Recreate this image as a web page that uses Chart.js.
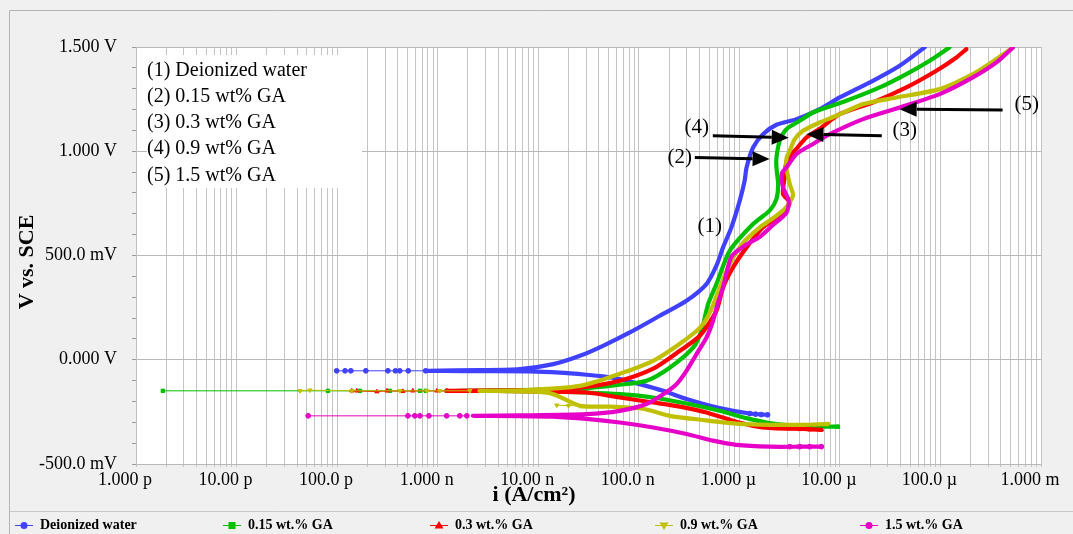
<!DOCTYPE html>
<html><head><meta charset="utf-8">
<script src="https://cdn.jsdelivr.net/npm/chart.js@4"></script>
<style>html,body{margin:0;padding:0;background:#f0f0f0}#wrap{width:1073px;height:534px;position:relative}</style>
</head><body><div id="wrap"><canvas id="c" width="1073" height="534"></canvas></div>
<script>
// ---------------- data (current density A/cm², potential V vs SCE) ----------------
const seriesNames = ['Deionized water', '0.15 wt.% GA', '0.3 wt.% GA', '0.9 wt.% GA', '1.5 wt.% GA'];
const boxLabels = ['(1) Deionized water', '(2) 0.15 wt% GA', '(3) 0.3 wt% GA', '(4) 0.9 wt% GA', '(5) 1.5 wt% GA'];
const xTickLabels = ['1.000 p', '10.00 p', '100.0 p', '1.000 n', '10.00 n', '100.0 n', '1.000 µ', '10.00 µ', '100.0 µ', '1.000 m'];
const yTickLabels = ['-500.0 mV', '0.000 V', '500.0 mV', '1.000 V', '1.500 V'];
const xTitle = 'i (A/cm²)';
const yTitle = 'V vs. SCE';

const waterCurve = [[1.91e-6,-0.264],[1.27e-6,-0.258],[6.38e-7,-0.232],[2.98e-7,-0.188],[1.75e-7,-0.149],[1.02e-7,-0.117],[6.47e-8,-0.093],[4.41e-8,-0.080],[3.02e-8,-0.072],[1.64e-8,-0.062],[8.26e-9,-0.056],[2.62e-9,-0.055],[7.8e-10,-0.053],
[2.62e-9,-0.050],[6.56e-9,-0.045],[1.41e-8,-0.021],[2.60e-8,0.019],[4.41e-8,0.067],[8.15e-8,0.131],[1.62e-7,0.211],[2.98e-7,0.283],[4.71e-7,0.363],[5.92e-7,0.451],[6.89e-7,0.539],[8.34e-7,0.635],[1.01e-6,0.763],[1.13e-6,0.859],[1.18e-6,0.922],[1.37e-6,1.018],[1.72e-6,1.082],[2.34e-6,1.127],[3.70e-6,1.154],[6.30e-6,1.202],[9.95e-6,1.258],[2.13e-5,1.338],[3.93e-5,1.410],[6.97e-5,1.498]];
const waterDots = [[7.6e-10,-0.053],[5.1e-10,-0.053],[4.2e-10,-0.053],[3.8e-10,-0.053],[3.2e-10,-0.053],[1.93e-10,-0.053],[1.37e-10,-0.053],[1.2e-10,-0.053],[9.9e-11,-0.053], null, [1.27e-6,-0.258],[1.45e-6,-0.261],[1.65e-6,-0.263],[1.91e-6,-0.264]];

const ga015Curve = [[9.57e-6,-0.321],[6.30e-6,-0.321],[2.94e-6,-0.313],[1.86e-6,-0.301],[1.18e-6,-0.280],[6.38e-7,-0.245],[2.98e-7,-0.210],[1.39e-7,-0.181],[6.47e-8,-0.165],[3.02e-8,-0.157],[1.30e-8,-0.152],[3.87e-9,-0.150],[1.66e-9,-0.149],
[3.87e-9,-0.147],[1.04e-8,-0.144],[2.60e-8,-0.139],[6.47e-8,-0.120],[1.19e-7,-0.101],[2.03e-7,-0.038],[3.47e-7,0.058],[4.20e-7,0.139],[4.89e-7,0.267],[5.92e-7,0.363],[8.04e-7,0.523],[1.37e-6,0.651],[2.00e-6,0.715],[2.34e-6,0.772],[2.43e-6,0.843],[2.34e-6,0.922],[2.34e-6,0.970],[2.52e-6,1.050],[2.94e-6,1.106],[3.98e-6,1.146],[5.41e-6,1.186],[1.16e-5,1.242],[2.49e-5,1.306],[4.58e-5,1.370],[7.82e-5,1.434],[1.23e-4,1.498]];
const ga015Dots = [[1.23e-9,-0.149],[7.6e-10,-0.149],[6.65e-10,-0.149],[3.35e-10,-0.149],[1.69e-10,-0.149],[8.11e-11,-0.149],[1.85e-12,-0.149], null, [4.47e-6,-0.318],[5.25e-6,-0.320],[6.30e-6,-0.321],[9.57e-6,-0.321]];

const ga03Curve = [[6.55e-6,-0.336],[4.30e-6,-0.332],[2.16e-6,-0.328],[1.37e-6,-0.317],[8.65e-7,-0.293],[4.71e-7,-0.253],[2.56e-7,-0.225],[1.39e-7,-0.205],[6.47e-8,-0.181],[3.02e-8,-0.157],[1.04e-8,-0.152],[3.87e-9,-0.150],[1.23e-9,-0.149],
[3.87e-9,-0.147],[1.04e-8,-0.144],[2.60e-8,-0.134],[6.47e-8,-0.101],[1.39e-7,-0.043],[2.56e-7,0.043],[4.04e-7,0.115],[5.92e-7,0.235],[6.89e-7,0.347],[8.65e-7,0.443],[1.18e-6,0.539],[1.72e-6,0.635],[2.72e-6,0.706],[3.17e-6,0.754],[2.72e-6,0.795],[2.82e-6,0.874],[2.96e-6,0.954],[3.70e-6,1.012],[4.65e-6,1.066],[6.30e-6,1.108],[9.95e-6,1.178],[2.13e-5,1.234],[4.58e-5,1.306],[9.10e-5,1.386],[1.44e-4,1.450],[1.81e-4,1.490]];
const ga03Dots = [[1.23e-9,-0.149],[9.8e-10,-0.149],[5.66e-10,-0.149],[4.51e-10,-0.151],[3.13e-10,-0.149],[2.49e-10,-0.153],[1.57e-10,-0.149],[1.40e-10,-0.149], null, [3.17e-6,-0.331],[3.98e-6,-0.334],[5.01e-6,-0.336],[6.55e-6,-0.336]];

const ga09Curve = [[7.57e-6,-0.308],[4.30e-6,-0.312],[2.00e-6,-0.312],[9.35e-7,-0.306],[4.36e-7,-0.289],[2.03e-7,-0.269],[1.10e-7,-0.235],[5.15e-8,-0.225],[2.60e-8,-0.221],[1.30e-8,-0.160],[3.87e-9,-0.150],[2.62e-9,-0.149],
[6.56e-9,-0.147],[2.60e-8,-0.125],[6.47e-8,-0.067],[1.39e-7,-0.005],[2.56e-7,0.077],[4.04e-7,0.153],[5.08e-7,0.225],[6.38e-7,0.345],[8.04e-7,0.459],[1.09e-6,0.561],[1.60e-6,0.635],[2.00e-6,0.667],[2.82e-6,0.723],[3.42e-6,0.787],[3.17e-6,0.843],[2.94e-6,0.922],[2.96e-6,0.970],[3.17e-6,1.002],[3.56e-6,1.058],[4.30e-6,1.098],[6.30e-6,1.138],[9.23e-6,1.170],[1.70e-5,1.226],[3.65e-5,1.258],[9.82e-5,1.298],[2.10e-4,1.370],[3.60e-4,1.442],[5.26e-4,1.498]];
const ga09Dots = [[2.09e-9,-0.149],[1.05e-9,-0.149],[7.8e-10,-0.149],[4.21e-10,-0.149],[1.40e-10,-0.149],[5.37e-11,-0.146],[4.27e-11,-0.149], null, [1.53e-8,-0.218],[2.0e-8,-0.220],[2.6e-8,-0.221], null, [4.47e-6,-0.311],[5.62e-6,-0.310],[7.57e-6,-0.308]];

const ga15Curve = [[6.55e-6,-0.417],[4.30e-6,-0.417],[2.00e-6,-0.417],[9.35e-7,-0.408],[5.48e-7,-0.388],[2.98e-7,-0.356],[1.39e-7,-0.325],[6.47e-8,-0.301],[3.02e-8,-0.284],[1.41e-8,-0.273],[6.56e-9,-0.270],[2.24e-9,-0.269],
[6.56e-9,-0.267],[3.02e-8,-0.261],[6.47e-8,-0.245],[1.19e-7,-0.212],[1.75e-7,-0.165],[2.37e-7,-0.117],[2.98e-7,-0.053],[3.75e-7,0.027],[4.71e-7,0.106],[5.48e-7,0.187],[6.09e-7,0.269],[6.89e-7,0.347],[8.34e-7,0.494],[1.13e-6,0.547],[1.60e-6,0.590],[2.16e-6,0.647],[2.94e-6,0.705],[3.10e-6,0.763],[2.72e-6,0.826],[2.64e-6,0.892],[2.94e-6,0.922],[3.70e-6,0.987],[5.41e-6,1.035],[7.93e-6,1.082],[1.70e-5,1.154],[3.93e-5,1.210],[9.82e-5,1.274],[2.10e-4,1.354],[3.60e-4,1.426],[5.26e-4,1.498]];
const ga15Dots = [[1.95e-9,-0.269],[1.66e-9,-0.269],[1.23e-9,-0.269],[8.18e-10,-0.269],[6.65e-10,-0.269],[5.93e-10,-0.269],[5.06e-10,-0.269],[5.16e-11,-0.269], null, [3.17e-6,-0.417],[3.98e-6,-0.417],[5.01e-6,-0.417],[6.55e-6,-0.417]];

// annotation labels and arrows (data coordinates)
const curveLabels = [['(1)', 5.08e-7, 0.638], ['(2)', 2.56e-7, 0.969], ['(4)', 3.78e-7, 1.113], ['(3)', 4.41e-5, 1.098], ['(5)', 7.2e-4, 1.223]];
const arrows = [[5.45e-7, 1.074, 3.10e-6, 1.065], [3.61e-7, 0.970, 2.00e-6, 0.963], [2.61e-5, 1.074, 4.65e-6, 1.082], [4.15e-4, 1.198, 3.93e-5, 1.202]];

// ---------------- styling ----------------
const colors = ['rgb(64,64,255)', 'rgb(0,192,0)', 'rgb(255,0,0)', 'rgb(192,192,0)', 'rgb(230,0,200)'];
const pointStyles = ['circle', 'rect', 'triangle', 'triangle', 'circle'];
const pointRot = [0, 0, 0, 180, 0];
const curves = [waterCurve, ga015Curve, ga03Curve, ga09Curve, ga15Curve];
const dots = [waterDots, ga015Dots, ga03Dots, ga09Dots, ga15Dots];
const toXY = arr => arr.map(p => p ? {x: p[0], y: p[1]} : {x: NaN, y: NaN});

const datasets = [];
curves.forEach((c, k) => {
  datasets.push({label: seriesNames[k], data: toXY(c), showLine: true, borderColor: colors[k], backgroundColor: colors[k],
    borderWidth: 4.2, pointRadius: 0, tension: 0.25, order: 10 - 2 * k, borderCapStyle: 'round', borderJoinStyle: 'round'});
  datasets.push({label: seriesNames[k] + ' pts', data: toXY(dots[k]), showLine: true, spanGaps: false, borderColor: colors[k], backgroundColor: colors[k],
    borderWidth: 1, pointRadius: 2.4, pointStyle: pointStyles[k], rotation: pointRot[k], order: 9 - 2 * k, tension: 0});
});

const SERIF = "'Liberation Serif', 'Times New Roman', serif";

function isDecade(v) { const l = Math.log10(v); return Math.abs(l - Math.round(l)) < 1e-6; }
function isHalf(v) { const q = (v + 0.5) / 0.5; return Math.abs(q - Math.round(q)) < 1e-6; }

const decor = {
  id: 'decor',
  beforeDraw(chart) {
    const {ctx, chartArea: a, width, height} = chart;
    ctx.save();
    ctx.fillStyle = '#f0f0f0'; ctx.fillRect(0, 0, width, height);
    ctx.fillStyle = '#ffffff'; ctx.fillRect(a.left, a.top, a.right - a.left, a.bottom - a.top);
    ctx.strokeStyle = '#b4b4b4'; ctx.lineWidth = 1;
    ctx.beginPath(); ctx.moveTo(9.5, height); ctx.lineTo(9.5, 10.5); ctx.lineTo(width, 10.5); ctx.stroke();
    ctx.strokeStyle = '#c8c8c8';
    ctx.beginPath(); ctx.moveTo(9.5, 511.5); ctx.lineTo(width, 511.5); ctx.stroke();
    ctx.restore();
  },
  beforeDatasetsDraw(chart) {
    const {ctx, chartArea: a} = chart;
    ctx.save();
    ctx.fillStyle = '#ffffff';
    ctx.fillRect(a.left + 11, a.top + 8, 215, 133);
    ctx.restore();
  },
  afterDraw(chart) {
    const {ctx, chartArea: a} = chart;
    const xs = chart.scales.x, ys = chart.scales.y;
    ctx.save();
    ctx.fillStyle = '#000'; ctx.font = '20px ' + SERIF; ctx.textBaseline = 'middle'; ctx.textAlign = 'left';
    boxLabels.forEach((t, k) => ctx.fillText(t, a.left + 11, a.top + 23.5 + k * 26.2));
    ctx.font = '21px ' + SERIF; ctx.textAlign = 'center';
    curveLabels.forEach(([t, i, v]) => ctx.fillText(t, xs.getPixelForValue(i), ys.getPixelForValue(v)));
    ctx.strokeStyle = '#000'; ctx.fillStyle = '#000'; ctx.lineWidth = 3;
    arrows.forEach(([i0, v0, i1, v1]) => {
      const x0 = xs.getPixelForValue(i0), y0 = ys.getPixelForValue(v0);
      const x1 = xs.getPixelForValue(i1), y1 = ys.getPixelForValue(v1);
      const ang = Math.atan2(y1 - y0, x1 - x0), L = 17, W = 7.5;
      const bx = x1 - L * Math.cos(ang), by = y1 - L * Math.sin(ang);
      ctx.beginPath(); ctx.moveTo(x0, y0); ctx.lineTo(bx, by); ctx.stroke();
      ctx.beginPath(); ctx.moveTo(x1, y1);
      ctx.lineTo(bx + W * Math.sin(ang), by - W * Math.cos(ang));
      ctx.lineTo(bx - W * Math.sin(ang), by + W * Math.cos(ang));
      ctx.closePath(); ctx.fill();
    });
    ctx.font = 'bold 22px ' + SERIF; ctx.textAlign = 'center'; ctx.textBaseline = 'middle';
    ctx.fillText(xTitle, 534, 495);
    ctx.save(); ctx.translate(27, 262); ctx.rotate(-Math.PI / 2); ctx.fillText(yTitle, 0, 0); ctx.restore();
    const lx = [15, 223, 430, 655, 860], ly = 525;
    ctx.font = 'bold 14px ' + SERIF; ctx.textAlign = 'left';
    seriesNames.forEach((n, k) => {
      const x = lx[k];
      ctx.strokeStyle = colors[k]; ctx.fillStyle = colors[k]; ctx.lineWidth = 1;
      ctx.beginPath(); ctx.moveTo(x, ly + 0.5); ctx.lineTo(x + 18, ly + 0.5); ctx.stroke();
      const cx = x + 9, cy = ly + 0.5;
      ctx.beginPath();
      if (pointStyles[k] === 'circle') ctx.arc(cx, cy, 3.5, 0, Math.PI * 2);
      else if (pointStyles[k] === 'rect') ctx.rect(cx - 3.5, cy - 3.5, 7, 7);
      else if (pointRot[k] === 0) { ctx.moveTo(cx, cy - 4.5); ctx.lineTo(cx + 4.5, cy + 3); ctx.lineTo(cx - 4.5, cy + 3); ctx.closePath(); }
      else { ctx.moveTo(cx, cy + 4.5); ctx.lineTo(cx + 4.5, cy - 3); ctx.lineTo(cx - 4.5, cy - 3); ctx.closePath(); }
      ctx.fill();
      ctx.fillStyle = '#000';
      ctx.fillText(n, x + 25, ly);
    });
    ctx.restore();
  }
};

new Chart(document.getElementById('c'), {
  type: 'scatter',
  data: {datasets},
  options: {
    responsive: false, animation: false, devicePixelRatio: 1,
    layout: {padding: {left: 0, right: 32, top: 47, bottom: 40}},
    plugins: {legend: {display: false}, tooltip: {enabled: false}},
    scales: {
      x: {
        type: 'logarithmic', min: 1e-12, max: 1e-3, position: 'bottom',
        afterBuildTicks(scale) {
          const t = [];
          for (let e = -12; e <= -3; e++) for (let k = 1; k <= 9; k++) {
            if (e === -3 && k > 1) break;
            t.push({value: parseFloat((k * Math.pow(10, e)).toPrecision(3))});
          }
          scale.ticks = t;
        },
        afterFit(scale) { scale.height = 30; },
        ticks: {
          autoSkip: false, maxRotation: 0, minRotation: 0, padding: 2, color: '#000', labelOffset: -11,
          font: {family: SERIF, size: 18},
          callback(v) { return isDecade(v) ? xTickLabels[Math.round(Math.log10(v)) + 12] : ''; }
        },
        grid: {color: '#c4c4c4', lineWidth: 1, tickLength: 3, drawTicks: true},
        border: {display: false}
      },
      y: {
        type: 'linear', min: -0.5, max: 1.5,
        afterFit(scale) { scale.width = 136; },
        ticks: {
          stepSize: 0.1, maxTicksLimit: 40, autoSkip: false, padding: 15, color: '#000', font: {family: SERIF, size: 18},
          callback(v) { return isHalf(v) ? yTickLabels[Math.round((v + 0.5) / 0.5)] : ''; }
        },
        grid: {
          lineWidth: 1, tickLength: 4,
          color(ctx) { return isHalf(ctx.tick.value) ? '#b8b8b8' : 'rgba(0,0,0,0)'; },
          tickColor: '#9a9a9a'
        },
        border: {display: true, color: '#c0c0c0'}
      }
    }
  },
  plugins: [decor]
});
</script></body></html>
